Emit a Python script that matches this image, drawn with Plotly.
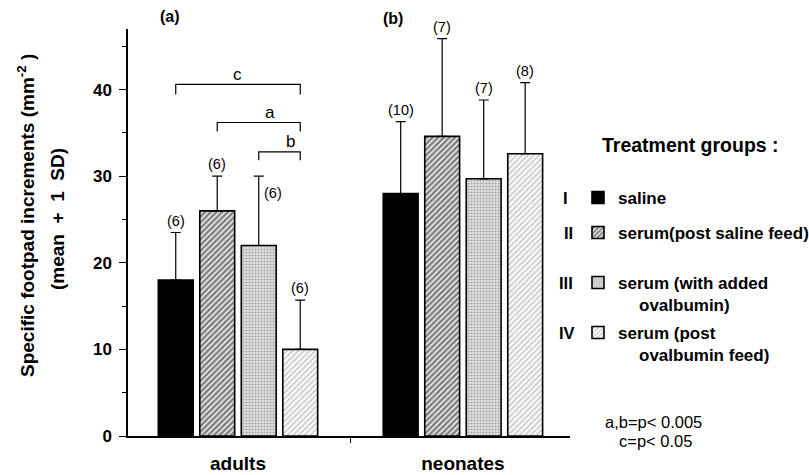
import plotly.graph_objects as go

# ---------------- data ----------------
groups = ["adults", "neonates"]
treatments = ["I", "II", "III", "IV"]
legend_names = ["saline", "serum(post saline feed)", "serum (with added", "serum (post"]
legend_second_lines = ["", "", "ovalbumin)", "ovalbumin feed)"]

mean_I = [18.0, 28.0]
mean_II = [26.0, 34.6]
mean_III = [22.0, 29.7]
mean_IV = [10.0, 32.6]

sd_I = [5.5, 8.3]
sd_II = [4.0, 11.3]
sd_III = [8.0, 9.1]
sd_IV = [5.7, 8.2]

n_I = [6, 10]
n_II = [6, 7]
n_III = [6, 7]
n_IV = [6, 8]

y_ticks = [0, 10, 20, 30, 40]

# significance brackets within adults (treatment index from -> to)
bracket_labels = ["c", "a", "b"]
bracket_levels = [40.6, 36.2, 32.8]
bracket_from = [0, 1, 2]
bracket_to = [3, 3, 3]

footnotes = ["a,b=p< 0.005", "c=p< 0.05"]

means = [mean_I, mean_II, mean_III, mean_IV]
sds = [sd_I, sd_II, sd_III, sd_IV]
ns = [n_I, n_II, n_III, n_IV]

# ---------------- style ----------------
FONT = "Liberation Sans, Arial, Helvetica, sans-serif"
W, H = 809, 475
ML, MR, MT, MB = 128, 239, 29, 39
PW, PH = W - ML - MR, H - MT - MB
BARGAP = 0.262
BARGROUPGAP = 0.16
SLOT = (1 - BARGAP) / 4

patterns = [
    dict(color="black", pattern=None),
    dict(color="white", pattern=dict(shape="/", fgcolor="black", bgcolor="white", size=4, solidity=0.65)),
    dict(color="#d0d0d0", pattern=dict(shape=".", fgcolor="#6a6a6a", bgcolor="#e2e2e2", size=3, solidity=0.4)),
    dict(color="#f0f0f0", pattern=dict(shape="/", fgcolor="#8a8a8a", bgcolor="#fafafa", size=4, solidity=0.35)),
]

legend_keys = ["legend", "legend2", "legend3", "legend4"]
legend_py = [198, 233, 283, 333]

fig = go.Figure()
for j in range(4):
    marker = dict(color=patterns[j]["color"], line=dict(color="black", width=1.6))
    if patterns[j]["pattern"] is not None:
        marker["pattern"] = patterns[j]["pattern"]
    fig.add_trace(go.Bar(
        x=groups, y=means[j], name=legend_names[j],
        marker=marker,
        error_y=dict(type="data", symmetric=False, array=sds[j], arrayminus=[0] * len(groups),
                     color="black", thickness=1.2, width=5),
        legend=legend_keys[j],
    ))


def px_x(px):
    return (px - ML) / PW


def px_y(py):
    return (H - MB - py) / PH


def bar_center(g, j):
    return g + (j - 1.5) * SLOT


annotations = []
shapes = []


def paper_text(px, py, text, size, bold=False, angle=0, xanchor="center"):
    f = dict(family=FONT, size=size, color="black")
    if bold:
        f["weight"] = "bold"
    return dict(x=px_x(px), y=px_y(py), xref="paper", yref="paper", text=text,
                showarrow=False, xanchor=xanchor, yanchor="middle", textangle=angle, font=f)


# n labels
for j in range(4):
    for g in range(len(groups)):
        top = means[j][g] + sds[j][g]
        if g == 0 and j == 2:
            xs, ys = 14, -17
        else:
            xs, ys = 0, 12
        annotations.append(dict(x=bar_center(g, j), y=top, xref="x", yref="y",
                                text=f"({ns[j][g]})", showarrow=False, xshift=xs, yshift=ys,
                                xanchor="center", yanchor="middle",
                                font=dict(family=FONT, size=14.5, color="black")))

# brackets
drops = [1.15, 1.05, 0.95]
for k in range(len(bracket_labels)):
    x0 = bar_center(0, bracket_from[k])
    x1 = bar_center(0, bracket_to[k])
    lv = bracket_levels[k]
    shapes.append(dict(type="path", xref="x", yref="y",
                       path=f"M {x0},{lv - drops[k]} L {x0},{lv} L {x1},{lv} L {x1},{lv - drops[k]}",
                       line=dict(color="black", width=1.2)))
    annotations.append(dict(x=(x0 + x1) / 2 + (0.05 if k > 0 else 0), y=lv, xref="x", yref="y",
                            text=bracket_labels[k], showarrow=False, yshift=10,
                            xanchor="center", yanchor="middle",
                            font=dict(family=FONT, size=17, color="black")))

# panel labels
annotations.append(paper_text(170, 17, "(a)", 16, bold=True))
annotations.append(paper_text(393, 18, "(b)", 16, bold=True))

# y title (two lines)
annotations.append(paper_text(26, 216, "Specific footpad increments (mm<sup>-2</sup> )", 19, bold=True, angle=-90))
annotations.append(paper_text(57, 219, "(mean\u00a0\u00a0+\u00a0\u00a01\u00a0\u00a0SD)", 19, bold=True, angle=-90))

# legend header
annotations.append(paper_text(690, 145, "Treatment groups :", 19.5, bold=True))

# roman numerals
roman_px = [565, 568, 566, 567]
for j in range(4):
    annotations.append(paper_text(roman_px[j], legend_py[j], treatments[j], 16.5, bold=True))
    if legend_second_lines[j]:
        annotations.append(paper_text(637, legend_py[j] + 22, legend_second_lines[j], 17,
                                      bold=True, xanchor="left"))

# footnotes
foot_py = [422, 441]
foot_px = [653, 655]
for k in range(len(footnotes)):
    annotations.append(paper_text(foot_px[k], foot_py[k], footnotes[k], 16.5))

layout_legends = {}
for j in range(4):
    layout_legends[legend_keys[j]] = dict(
        xref="container", yref="container", x=578 / W, y=1 - legend_py[j] / H,
        xanchor="left", yanchor="middle", bgcolor="rgba(0,0,0,0)",
        font=dict(family=FONT, size=17, color="black", weight="bold"),
    )

fig.update_layout(
    width=W, height=H,
    margin=dict(l=ML, r=MR, t=MT, b=MB, pad=0, autoexpand=False),
    paper_bgcolor="white", plot_bgcolor="white",
    barmode="group", bargap=BARGAP, bargroupgap=BARGROUPGAP,
    showlegend=True,
    annotations=annotations, shapes=shapes,
    font=dict(family=FONT, color="black"),
    **layout_legends,
)

fig.update_xaxes(
    type="category", range=[-0.489, 1.476], automargin=False,
    showline=True, linecolor="black", linewidth=1.5,
    ticks="outside", tickson="boundaries", ticklen=5, tickcolor="black", tickwidth=1.2,
    tickfont=dict(family=FONT, size=19, color="black", weight="bold"),
    ticklabelstandoff=9, showgrid=False, zeroline=False,
)
fig.update_yaxes(
    range=[0, 47], tickvals=y_ticks, automargin=False,
    showline=True, linecolor="black", linewidth=1.5,
    ticks="outside", ticklen=7, tickcolor="black", tickwidth=1.2,
    minor=dict(ticks="outside", dtick=5, ticklen=4, tickcolor="black", tickwidth=1.2, showgrid=False),
    tickfont=dict(family=FONT, size=17, color="black", weight="bold"),
    ticklabelstandoff=4, showgrid=False, zeroline=False,
)

fig.write_html("out.html", config={"displayModeBar": False},
               post_script="document.body.style.margin='0px';")
